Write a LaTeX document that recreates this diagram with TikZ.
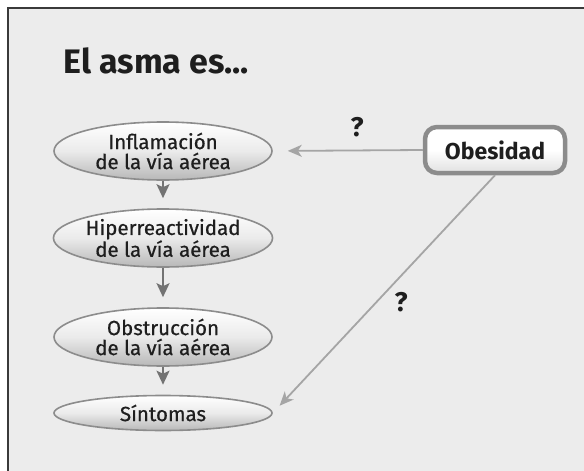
\documentclass[tikz,border=0pt]{standalone}
\usepackage{fontspec}
\setmainfont{Fira Sans}
\newfontfamily\stagefont{Fira Sans}[FakeBold=0.6]
\usepackage{xcolor}
\usepackage{tikz}
\usetikzlibrary{arrows.meta,positioning,calc,shapes.geometric}
\definecolor{panel}{RGB}{236,236,236}
\definecolor{frame}{RGB}{58,58,58}
\definecolor{inkdark}{RGB}{30,30,30}
\definecolor{rimgray}{RGB}{140,140,140}
\definecolor{linkgray}{RGB}{165,165,165}
\definecolor{stepgray}{RGB}{115,115,115}

\begin{document}
\begin{tikzpicture}[
  x=1pt, y=-1pt,
  font=\stagefont\fontsize{20.5}{20}\selectfont,
  stage/.style={ellipse, draw=rimgray, line width=1.6pt, inner sep=0pt, align=center,
    minimum width=218pt, text=inkdark,
    top color=white, bottom color=black!28, middle color=white!92!black},
  cause/.style={draw=rimgray, line width=4.5pt, rounded corners=12pt, align=center,
    minimum width=140pt, minimum height=46pt, text=inkdark,
    top color=white, bottom color=black!12, middle color=white,
    font=\fontsize{23}{24}\selectfont\bfseries},
  quest/.style={text=inkdark, font=\fontsize{27}{24}\selectfont\bfseries},
  down/.style={draw=stepgray, line width=2pt, -{Stealth[length=14pt,width=13pt,inset=3pt]}},
  link/.style={draw=linkgray, line width=1.8pt, -{Stealth[length=14pt,width=12pt,inset=4pt]}}
]
\useasboundingbox (0,0) rectangle (584,471);
\draw[fill=panel, draw=frame, line width=2.5pt] (8,8) rectangle (600,490);

\node[anchor=base west, text=inkdark, font=\fontsize{34}{36}\selectfont\bfseries] (title) at (60,73) {El asma es...};

\node[stage, minimum height=58pt] (inflam) at (163,151) {Inflamación\\de la vía aérea};
\node[stage, minimum height=58pt] (hiper) at (163,238) {Hiperreactividad\\de la vía aérea};
\node[stage, minimum height=58pt] (obstr) at (163,337) {Obstrucción\\de la vía aérea};
\node[stage, minimum height=35pt] (sint) at (163,413) {Síntomas};

\node[cause] (obes) at (495,150) {Obesidad};

\node[quest] (q1) at (357,127) {?};
\node[quest] (q2) at (401,302) {?};

\foreach \a/\b in {inflam/hiper,hiper/obstr,obstr/sint} {
  \draw[down, shorten >=10pt] (\a.south) -- (\b.north);
}
\draw[link, shorten >=15pt] (obes.west) -- (inflam.east);
\draw[link, shorten >=10pt] (obes.south) -- (sint.east);
\end{tikzpicture}
\end{document}
